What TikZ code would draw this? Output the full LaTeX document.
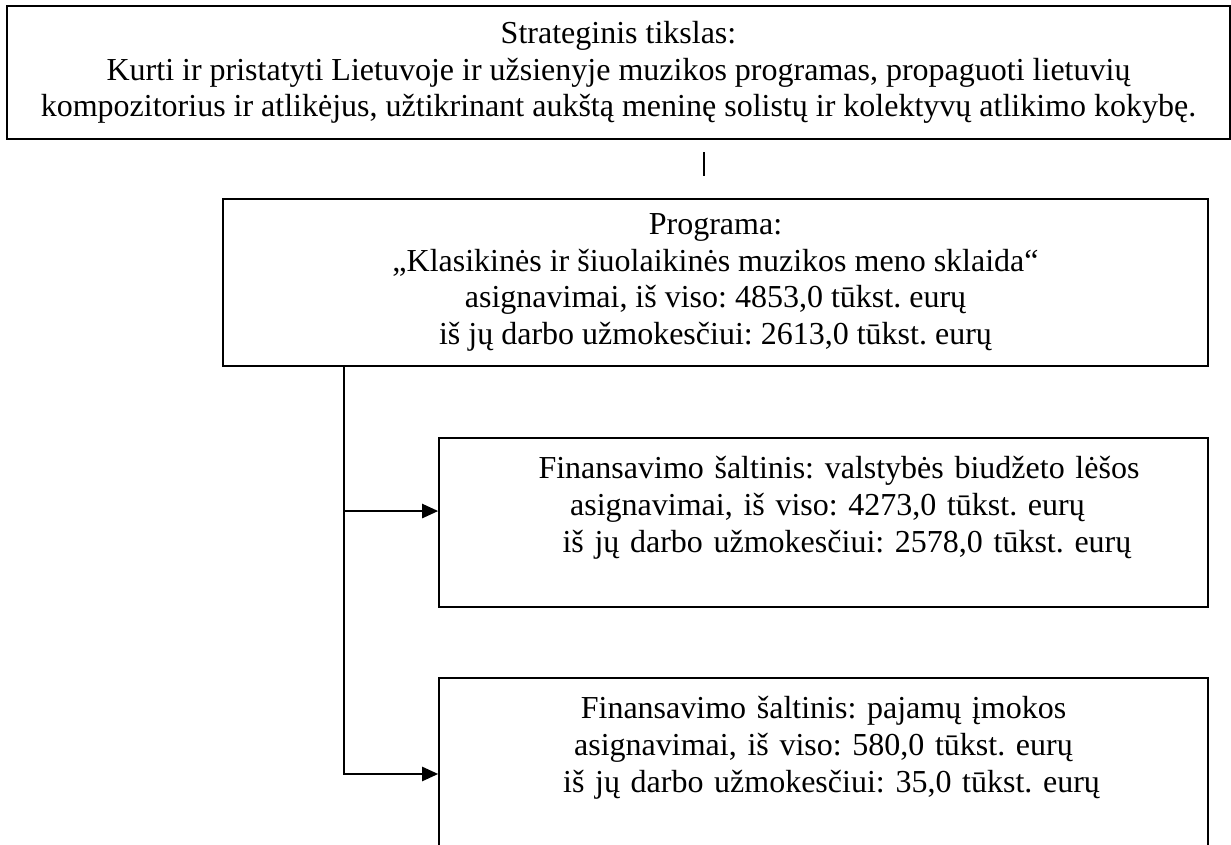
\documentclass[tikz,border=0pt]{standalone}
\usepackage{fontspec}
\setmainfont{Liberation Serif}
\usetikzlibrary{arrows.meta}

\tikzset{
  box/.style={draw, line width=0.6pt, inner sep=0pt, align=center,
    font=\fontsize{12pt}{13.8pt}\selectfont\frenchspacing},
  srcbox/.style={box, text width=288.4pt, minimum height=63.4pt},
  flow/.style={line width=0.75pt, -{Triangle[length=6pt,width=5.3pt]}}
}

\begin{document}
\begin{tikzpicture}[x=0.375pt, y=-0.375pt]
  \useasboundingbox (0,0) rectangle (1231,844);
  \clip (0,0) rectangle (1231,844);

  \node[box, minimum width=458.6pt, minimum height=49.9pt] (goal) at (618.5,72.5)
    {Strateginis tikslas:\\
     Kurti ir pristatyti Lietuvoje ir užsienyje muzikos programas, propaguoti lietuvių\\
     kompozitorius ir atlikėjus, užtikrinant aukštą meninę solistų ir kolektyvų atlikimo kokybę.};

  \node[box, minimum width=369.4pt, minimum height=62.6pt] (prog) at (715.5,282.5)
    {Programa:\\
     „Klasikinės ir šiuolaikinės muzikos meno sklaida“\\
     asignavimai, iš viso: 4853,0 tūkst. eurų\\
     iš jų darbo užmokesčiui: 2613,0 tūkst. eurų};

  \node[srcbox] (src2) at (823.5,522.5)
    {\hspace*{11.6pt}Finansavimo šaltinis: valstybės biudžeto lėšos\\
     \hspace*{3pt}asignavimai, iš viso: 4273,0 tūkst. eurų\\
     \hspace*{17.6pt}iš jų darbo užmokesčiui: 2578,0 tūkst. eurų\\
     \mbox{}};

  \node[srcbox] (src3) at (823.5,762.5)
    {Finansavimo šaltinis: pajamų įmokos\\
     asignavimai, iš viso: 580,0 tūkst. eurų\\
     \hspace*{6pt}iš jų darbo užmokesčiui: 35,0 tūkst. eurų\\
     \mbox{}};

  \coordinate (stub) at (704,152);
  \draw[line width=0.75pt] (stub) -- ++(0,24);

  \coordinate (trunk) at (344,366);
  \coordinate (in2) at ([yshift=4.3pt]src2.west);
  \coordinate (in3) at ([yshift=-4.3pt]src3.west);
  \draw[flow] (trunk) |- (in3);
  \draw[flow] (trunk |- in2) -- (in2);
\end{tikzpicture}
\end{document}
